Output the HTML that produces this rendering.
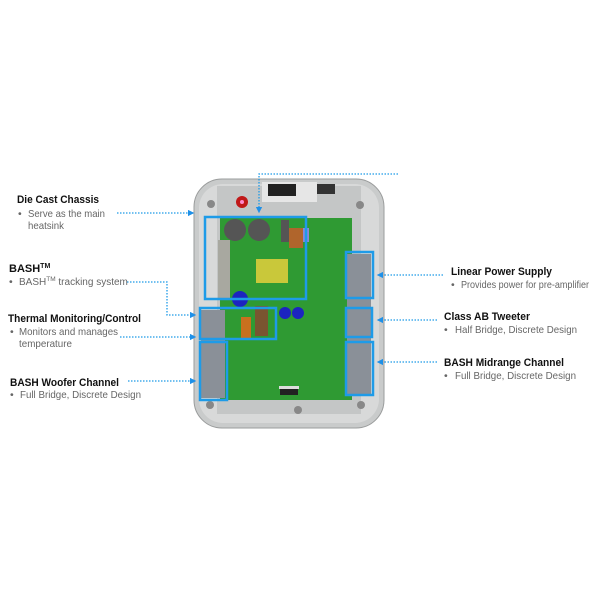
<!DOCTYPE html><html><head><style>body{margin:0;background:#fff}svg{display:block}</style></head><body>
<svg width="600" height="600" viewBox="0 0 600 600" xmlns="http://www.w3.org/2000/svg" font-family="Liberation Sans, sans-serif">
<defs><marker id="a" markerWidth="5" markerHeight="5" refX="4" refY="2.5" orient="auto"><path d="M0,0L5,2.5L0,5z" fill="#1e90e8"/></marker></defs>
<!-- chassis -->
<rect x="194" y="179" width="190" height="249" rx="28" fill="#c9cbcb" stroke="#9a9c9c"/>
<rect x="199" y="184" width="180" height="239" rx="24" fill="#d8d9d9"/>
<rect x="217" y="186" width="144" height="228" fill="#c4c6c6"/>
<rect x="262" y="182" width="55" height="20" fill="#e6e6e6"/>
<rect x="268" y="184" width="28" height="12" fill="#222"/><rect x="317" y="184" width="18" height="10" fill="#333"/>
<circle cx="242" cy="202" r="6" fill="#c01818"/><circle cx="242" cy="202" r="2" fill="#f8c"/>
<circle cx="211" cy="204" r="4" fill="#888"/><circle cx="360" cy="205" r="4" fill="#888"/>
<circle cx="210" cy="405" r="4" fill="#888"/><circle cx="361" cy="405" r="4" fill="#888"/><circle cx="298" cy="410" r="4" fill="#888"/>
<!-- pcb -->
<rect x="220" y="218" width="132" height="182" fill="#2f9a33"/>
<circle cx="235" cy="230" r="11" fill="#555"/><circle cx="259" cy="230" r="11" fill="#555"/>
<rect x="281" y="220" width="8" height="22" fill="#555"/><rect x="289" y="228" width="14" height="20" fill="#b0652c"/><rect x="303" y="228" width="6" height="14" fill="#8888dd"/>
<rect x="256" y="259" width="32" height="24" fill="#c9c83a"/>
<rect x="218" y="240" width="12" height="58" fill="#a8a8a0"/>
<circle cx="240" cy="299" r="8" fill="#1c24c0"/><circle cx="285" cy="313" r="6" fill="#1c24c0"/><circle cx="298" cy="313" r="6" fill="#1c24c0"/>
<rect x="255" y="306" width="13" height="30" fill="#7a5530"/><rect x="241" y="317" width="10" height="22" fill="#c8701e"/>
<rect x="280" y="389" width="18" height="6" fill="#222"/><rect x="279" y="386" width="20" height="3" fill="#ddd"/>
<!-- heatsink blocks -->
<rect x="201" y="310" width="24" height="88" fill="#8a9098"/><rect x="347" y="254" width="24" height="142" fill="#8a9098"/>
<!-- blue boxes -->
<g fill="none" stroke="#1e9be8" stroke-width="2.5">
<rect x="205" y="217" width="101" height="82"/><rect x="200" y="308" width="76" height="31"/><rect x="200" y="342" width="27" height="58"/>
<rect x="346" y="252" width="27" height="46"/><rect x="346" y="308" width="26" height="29"/><rect x="346" y="342" width="27" height="53"/>
</g>
<!-- connectors -->
<g fill="none" stroke="#1e9be8" stroke-width="1.3" stroke-dasharray="1.5,1.5">
<path d="M398,174H259V212" marker-end="url(#a)"/>
<path d="M117,213H193" marker-end="url(#a)"/>
<path d="M127,282H167V315H195" marker-end="url(#a)"/>
<path d="M120,337H195" marker-end="url(#a)"/>
<path d="M128,381H195" marker-end="url(#a)"/>
<path d="M443,275H378" marker-end="url(#a)"/>
<path d="M437,320H378" marker-end="url(#a)"/>
<path d="M437,362H378" marker-end="url(#a)"/>
</g>
<!-- labels -->
<g font-size="11" fill="#111" font-weight="bold">
<text x="17" y="203" textLength="82" lengthAdjust="spacingAndGlyphs">Die Cast Chassis</text>
<text x="9" y="272">BASH<tspan font-size="7" dy="-4">TM</tspan></text>
<text x="8" y="322" textLength="133" lengthAdjust="spacingAndGlyphs">Thermal Monitoring/Control</text>
<text x="10" y="386" textLength="109" lengthAdjust="spacingAndGlyphs">BASH Woofer Channel</text>
<text x="451" y="275" textLength="101" lengthAdjust="spacingAndGlyphs">Linear Power Supply</text>
<text x="444" y="320" textLength="86" lengthAdjust="spacingAndGlyphs">Class AB Tweeter</text>
<text x="444" y="366" textLength="120" lengthAdjust="spacingAndGlyphs">BASH Midrange Channel</text>
</g>
<g font-size="10.5" fill="#666">
<text x="18" y="217">•</text><text x="28" y="217" textLength="77" lengthAdjust="spacingAndGlyphs">Serve as the main</text><text x="28" y="229" textLength="36" lengthAdjust="spacingAndGlyphs">heatsink</text>
<text x="9" y="285">•</text><text x="19" y="285" font-size="10">BASH<tspan font-size="6.5" dy="-4">TM</tspan><tspan dy="4"> tracking system</tspan></text>
<text x="10" y="335">•</text><text x="19" y="335" textLength="99" lengthAdjust="spacingAndGlyphs">Monitors and manages</text><text x="19" y="347" textLength="53" lengthAdjust="spacingAndGlyphs">temperature</text>
<text x="10" y="398">•</text><text x="20" y="398" textLength="121" lengthAdjust="spacingAndGlyphs">Full Bridge, Discrete Design</text>
<text x="451" y="288">•</text><text x="461" y="288" textLength="128" lengthAdjust="spacingAndGlyphs">Provides power for pre-amplifier</text>
<text x="444" y="333">•</text><text x="455" y="333" textLength="122" lengthAdjust="spacingAndGlyphs">Half Bridge, Discrete Design</text>
<text x="444" y="379">•</text><text x="455" y="379" textLength="121" lengthAdjust="spacingAndGlyphs">Full Bridge, Discrete Design</text>
</g>
</svg></body></html>
